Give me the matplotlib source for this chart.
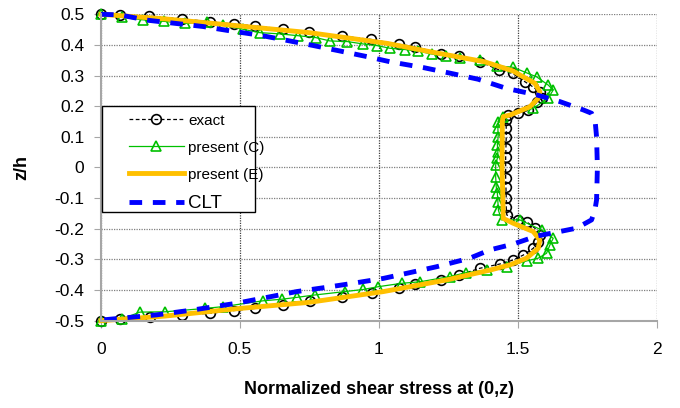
import matplotlib.pyplot as plt
from matplotlib.patches import Rectangle

plt.rcParams['font.family'] = ['Liberation Sans', 'DejaVu Sans']

# exact solution (upper and lower halves of the section)
exact_top_z = [0.500, 0.497, 0.494, 0.485, 0.476, 0.468, 0.462, 0.452, 0.441, 0.429,
               0.418, 0.402, 0.394, 0.372, 0.364, 0.345, 0.318, 0.307, 0.280, 0.262,
               0.245, 0.228, 0.214, 0.186, 0.178, 0.172, 0.155, 0.128, 0.100, 0.065,
               0.035, 0.000]
exact_top_x = [0.000, 0.070, 0.174, 0.290, 0.392, 0.478, 0.554, 0.654, 0.748, 0.868,
               0.971, 1.072, 1.130, 1.222, 1.288, 1.363, 1.433, 1.481, 1.525, 1.556,
               1.579, 1.585, 1.570, 1.537, 1.501, 1.463, 1.457, 1.458, 1.458, 1.457,
               1.456, 1.456]
exact_bot_z = [-0.035, -0.065, -0.100, -0.130, -0.155, -0.171, -0.177, -0.198, -0.220, -0.242,
               -0.264, -0.286, -0.302, -0.315, -0.329, -0.351, -0.367, -0.381, -0.394, -0.411,
               -0.424, -0.436, -0.449, -0.460, -0.467, -0.476, -0.481, -0.489, -0.494, -0.500]
exact_bot_x = [1.456, 1.457, 1.458, 1.458, 1.460, 1.501, 1.531, 1.561, 1.579, 1.573,
               1.555, 1.519, 1.483, 1.435, 1.363, 1.288, 1.222, 1.130, 1.072, 0.974,
               0.866, 0.752, 0.656, 0.554, 0.478, 0.392, 0.290, 0.176, 0.068, 0.000]

# present (C)
c_top_z = [0.500, 0.490, 0.482, 0.477, 0.470, 0.474, 0.464, 0.451, 0.440, 0.436,
           0.430, 0.424, 0.413, 0.411, 0.403, 0.398, 0.389, 0.385, 0.380, 0.370,
           0.364, 0.356, 0.351, 0.332, 0.327, 0.309, 0.296, 0.269, 0.253, 0.226,
           0.193, 0.166, 0.150, 0.128, 0.100, 0.075, 0.050, 0.030, 0.008]
c_top_x = [0.000, 0.074, 0.150, 0.226, 0.302, 0.380, 0.440, 0.512, 0.572, 0.644,
           0.710, 0.772, 0.824, 0.886, 0.944, 0.992, 1.040, 1.094, 1.140, 1.192,
           1.243, 1.291, 1.363, 1.423, 1.483, 1.531, 1.567, 1.609, 1.627, 1.609,
           1.555, 1.447, 1.430, 1.428, 1.429, 1.426, 1.428, 1.426, 1.420]
c_bot_z = [-0.030, -0.063, -0.084, -0.112, -0.140, -0.171, -0.171, -0.204, -0.231, -0.253,
           -0.280, -0.296, -0.305, -0.324, -0.335, -0.343, -0.356, -0.373, -0.378, -0.389,
           -0.398, -0.405, -0.416, -0.424, -0.430, -0.435, -0.454, -0.460, -0.471, -0.472,
           -0.495, -0.500]
c_bot_x = [1.420, 1.422, 1.426, 1.428, 1.430, 1.441, 1.507, 1.585, 1.627, 1.615,
           1.603, 1.573, 1.531, 1.459, 1.390, 1.315, 1.255, 1.148, 1.082, 0.998,
           0.944, 0.878, 0.770, 0.704, 0.650, 0.584, 0.440, 0.374, 0.230, 0.140,
           0.074, 0.000]

# present (E)
e_z = [0.500, 0.485, 0.465, 0.440, 0.405, 0.378, 0.345, 0.315, 0.302, 0.275,
       0.247, 0.226, 0.198, 0.180, 0.171, 0.166, 0.150, 0.000, -0.139, -0.166,
       -0.182, -0.209, -0.237, -0.264, -0.296, -0.318, -0.335, -0.367, -0.405, -0.440,
       -0.460, -0.485, -0.500]
e_x = [0.000, 0.230, 0.464, 0.750, 1.030, 1.183, 1.380, 1.483, 1.507, 1.561,
       1.579, 1.573, 1.543, 1.495, 1.471, 1.447, 1.444, 1.443, 1.447, 1.447,
       1.483, 1.555, 1.579, 1.573, 1.531, 1.471, 1.399, 1.243, 1.016, 0.750,
       0.500, 0.230, 0.000]

# classical laminate theory
clt_z = [0.500, 0.498, 0.481, 0.460, 0.446, 0.432, 0.416, 0.398, 0.379, 0.362,
         0.345, 0.326, 0.308, 0.288, 0.258, 0.237, 0.215, 0.188, 0.177, 0.150,
         0.100, 0.000, -0.106, -0.139, -0.171, -0.198, -0.209, -0.224, -0.250, -0.269,
         -0.296, -0.324, -0.343, -0.362, -0.378, -0.391, -0.405, -0.422, -0.443, -0.465,
         -0.481, -0.498]
clt_x = [0.000, 0.068, 0.164, 0.368, 0.464, 0.570, 0.662, 0.764, 0.866, 0.956,
         1.040, 1.160, 1.255, 1.357, 1.459, 1.567, 1.651, 1.735, 1.765, 1.778,
         1.783, 1.786, 1.783, 1.777, 1.765, 1.711, 1.651, 1.567, 1.483, 1.399,
         1.327, 1.207, 1.112, 1.016, 0.906, 0.812, 0.704, 0.608, 0.488, 0.331,
         0.200, 0.000]

x_ticks = [0, 0.5, 1, 1.5, 2]
x_tick_labels = ['0', '0.5', '1', '1.5', '2']
y_ticks = [-0.5, -0.4, -0.3, -0.2, -0.1, 0, 0.1, 0.2, 0.3, 0.4, 0.5]
y_tick_labels = ['-0.5', '-0.4', '-0.3', '-0.2', '-0.1', '0', '0.1', '0.2', '0.3', '0.4', '0.5']

fig = plt.figure(figsize=(6.8, 4.08), dpi=100)
ax = fig.add_axes([0.1485, 0.214, 0.8175, 0.751])

ax.plot(exact_top_x + exact_bot_x, exact_top_z + exact_bot_z, color='black',
        ls=(0, (3, 2)), lw=0.9, marker='o', ms=7, mfc='none', mec='black', mew=1.2,
        label='exact', clip_on=False, zorder=2)
ax.plot(c_top_x + c_bot_x, c_top_z + c_bot_z, color='#00c000', lw=0.9,
        marker='^', ms=7, mfc='none', mec='#00c000', mew=1.2,
        label='present (C)', clip_on=False, zorder=2.1)
ax.plot(e_x, e_z, color='#ffc000', lw=3.5, label='present (E)',
        clip_on=False, zorder=2.2, solid_joinstyle='round')
ax.plot(clt_x, clt_z, color='#0000ff', lw=3.5, ls=(0, (2.6, 2.2)),
        label='CLT', clip_on=False, zorder=2.3)

ax.set_xlim(0, 2)
ax.set_ylim(-0.5, 0.5)
ax.set_xticks(x_ticks)
ax.set_xticklabels(x_tick_labels)
ax.set_yticks(y_ticks)
ax.set_yticklabels(y_tick_labels)
ax.tick_params(direction='out', length=5, color='#a6a6a6', labelsize=12.5, pad=7)
ax.tick_params(axis='x', pad=10)

ax.set_axisbelow(True)
ax.yaxis.grid(True, color='#7f7f7f', ls=(0, (1, 1)), lw=0.9)
ax.xaxis.grid(True, color='#404040', ls=(0, (1, 1)), lw=0.9)
for s in ['top', 'right']:
    ax.spines[s].set_visible(False)
for s in ['left', 'bottom']:
    ax.spines[s].set_color('#a6a6a6')
    ax.spines[s].set_linewidth(1.5)

ax.set_xlabel('Normalized shear stress at (0,z)', fontsize=13, fontweight='bold')
ax.xaxis.set_label_coords(0.5, -0.225)
ax.xaxis.label.set_va('center')
ax.set_ylabel('z/h', fontsize=13, fontweight='bold')
ax.yaxis.set_label_coords(-0.142, 0.5)
ax.yaxis.label.set_va('center')

# legend box drawn separately so the handles can sit further from its edge
ax.add_patch(Rectangle((0.002, 0.354), 0.275, 0.347, transform=ax.transAxes,
                       facecolor='white', edgecolor='black', lw=1, zorder=4,
                       clip_on=False))
leg = ax.legend(loc='upper left', bbox_to_anchor=(0.036, 0.70), frameon=False,
                borderpad=0, handlelength=3.6, handletextpad=0.3,
                labelspacing=0.85, fontsize=11)
leg.set_zorder(5)
leg.get_texts()[3].set_fontsize(13.5)

fig.savefig('out.png', dpi=100)
